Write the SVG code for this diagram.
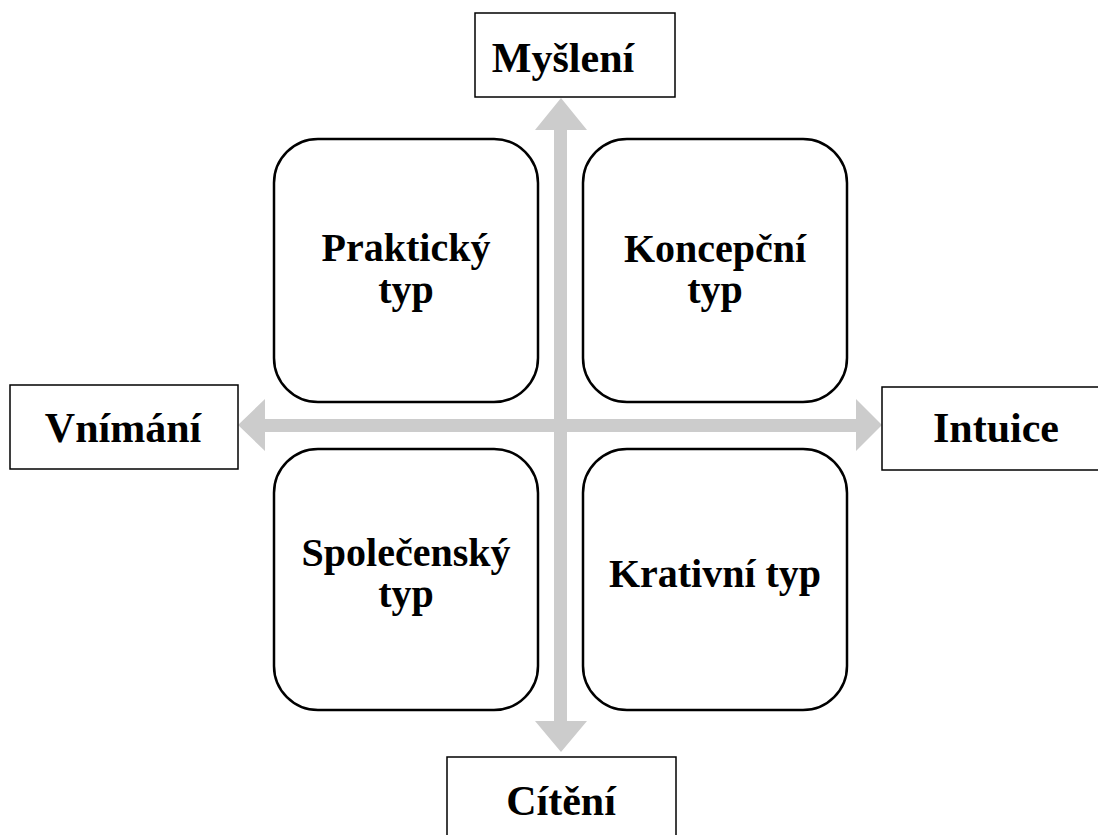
<svg xmlns="http://www.w3.org/2000/svg" width="1098" height="835" viewBox="0 0 1098 835">
  <style>
    .label { fill: #fff; stroke: #000; stroke-width: 1.5; }
    .quad { fill: #fff; stroke: #000; stroke-width: 2.5; }
    .axis { fill: #cccccc; stroke: none; }
    text { font-family: "Liberation Serif", "Times New Roman", serif; font-weight: bold; fill: #000; text-anchor: middle; }
    .big { font-size: 42px; }
    .mid { font-size: 40px; }
  </style>
  <rect width="1098" height="835" fill="#fff"/>

  <!-- quadrant boxes -->
  <g id="prakticky">
    <rect class="quad" x="274" y="139" width="264" height="263" rx="44" ry="44"/>
    <text class="mid" x="406" y="261">Praktický</text>
    <text class="mid" x="406" y="303">typ</text>
  </g>
  <g id="koncepcni">
    <rect class="quad" x="583" y="139" width="264" height="263" rx="44" ry="44"/>
    <text class="mid" x="715" y="262">Koncepční</text>
    <text class="mid" x="715" y="303">typ</text>
  </g>
  <g id="spolecensky">
    <rect class="quad" x="274" y="449" width="264" height="261" rx="44" ry="44"/>
    <text class="mid" x="406" y="566">Společenský</text>
    <text class="mid" x="406" y="607">typ</text>
  </g>
  <g id="krativni">
    <rect class="quad" x="583" y="449" width="264" height="261" rx="44" ry="44"/>
    <text class="mid" x="715" y="587">Krativní typ</text>
  </g>

  <!-- axes: two double-headed block arrows -->
  <g id="connectors">
    <path class="axis" d="M561,98 L587,130 L567,130 L567,721 L587,721 L561,752 L535,721 L554,721 L554,130 L535,130 Z"/>
    <path class="axis" d="M238,425 L265,399 L265,419 L856,419 L856,399 L882,425 L856,451 L856,432 L265,432 L265,451 Z"/>
  </g>

  <!-- axis end labels -->
  <g id="mysleni">
    <rect class="label" x="475" y="13" width="200" height="84"/>
    <text class="big" x="563" y="72">Myšlení</text>
  </g>
  <g id="vnimani">
    <rect class="label" x="10" y="385" width="228" height="84"/>
    <text class="big" x="123" y="442">Vnímání</text>
  </g>
  <g id="intuice">
    <rect class="label" x="882" y="387" width="220" height="83"/>
    <text class="big" x="996" y="442">Intuice</text>
  </g>
  <g id="citeni">
    <rect class="label" x="447" y="757" width="229" height="90"/>
    <text class="big" x="561" y="815">Cítění</text>
  </g>
</svg>
